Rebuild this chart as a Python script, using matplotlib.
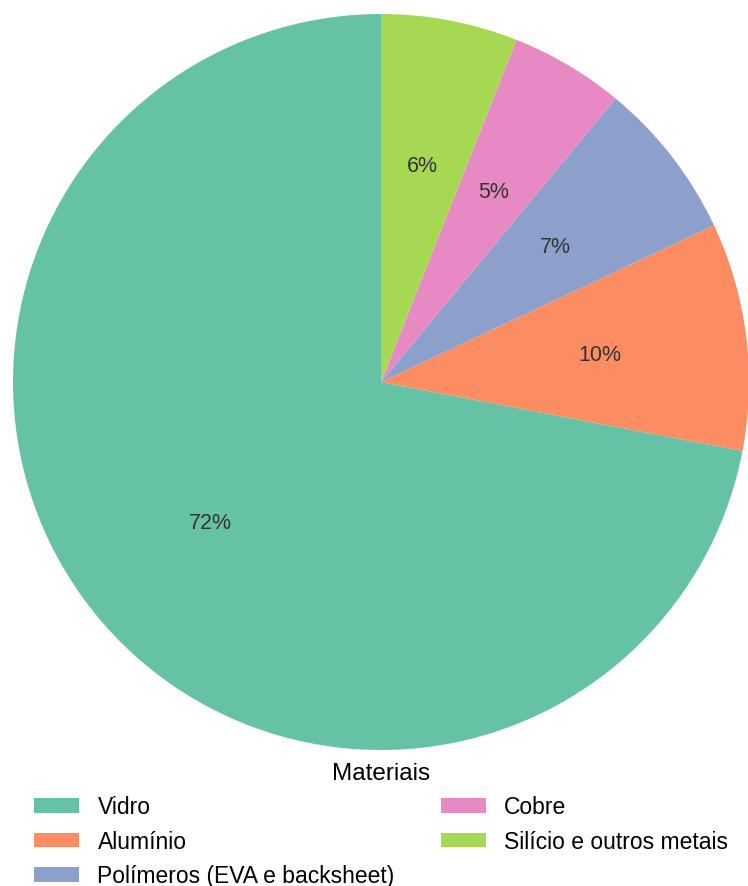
import matplotlib.pyplot as plt

plt.rcParams['font.family'] = ['Liberation Sans', 'DejaVu Sans']

materiais = ['Vidro', 'Alumínio', 'Polímeros (EVA e backsheet)', 'Cobre', 'Silício e outros metais']
percentuais = [72, 10, 7, 5, 6]
cores = ['#66c2a5', '#fc8d62', '#8da0cb', '#e78ac3', '#a6d854']

fig = plt.figure(figsize=(7.48, 8.87), dpi=100)
ax = fig.add_axes([13 / 748, (887 - 751) / 887, 736 / 748, 736 / 887])

wedges, texts, autotexts = ax.pie(percentuais, colors=cores, startangle=90, counterclock=True,
                                  autopct='%.0f%%', pctdistance=0.6,
                                  textprops={'fontsize': 15.5, 'color': '#333333'})
ax.set_xlim(-1, 1)
ax.set_ylim(-1, 1)
ax.set_aspect('equal')

fig.legend(wedges, materiais, title='Materiais', loc='upper center',
           bbox_to_anchor=(381 / 748, 1 - 763 / 887), ncol=2, frameon=False,
           fontsize=16.5, title_fontsize=17.5, handlelength=1.97, handleheight=0.6,
           labelspacing=0.5, columnspacing=2.0, handletextpad=0.8,
           borderaxespad=0, borderpad=0)

fig.savefig('out.png', dpi=100)
